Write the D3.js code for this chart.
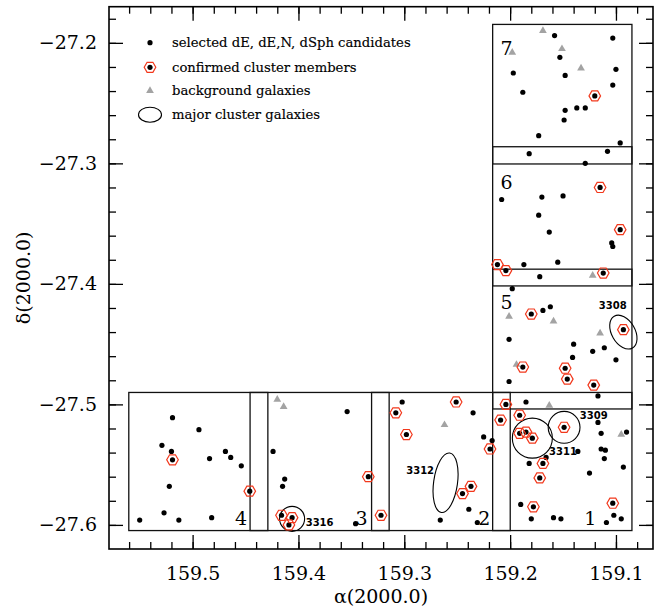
<!DOCTYPE html>
<html>
<head>
<meta charset="utf-8">
<script src="https://cdn.jsdelivr.net/npm/d3@7"></script>
<style>
  body { margin: 0; background: #fff; }
  svg { display: block; }
</style>
</head>
<body>
<script>
var w = 669, h = 610;
var dim = { left: 109, right: 653, top: 6.7, bottom: 549 };

// axis ranges and labels
var raDomain = [159.579, 159.065];
var decDomain = [-27.620, -27.170];
var raTicks = [159.5, 159.4, 159.3, 159.2, 159.1];
var decTicks = [-27.2, -27.3, -27.4, -27.5, -27.6];

// selected dE, dE,N, dSph candidates [ra, dec]
var selected = [
  [159.158,-27.194],[159.103,-27.196],[159.153,-27.212],[159.197,-27.225],[159.100,-27.222],
  [159.148,-27.227],[159.188,-27.241],[159.103,-27.235],[159.148,-27.256],[159.137,-27.254],
  [159.129,-27.254],[159.149,-27.264],[159.173,-27.277],[159.096,-27.283],[159.182,-27.292],
  [159.108,-27.290],[159.129,-27.300],
  [159.208,-27.330],[159.170,-27.328],[159.150,-27.327],[159.173,-27.343],[159.163,-27.357],
  [159.104,-27.366],[159.103,-27.369],[159.187,-27.384],[159.155,-27.382],[159.172,-27.394],
  [159.198,-27.404],
  [159.169,-27.422],[159.162,-27.419],[159.201,-27.446],[159.140,-27.450],[159.122,-27.456],
  [159.111,-27.453],[159.141,-27.461],[159.100,-27.463],[159.201,-27.481],[159.117,-27.493],
  [159.185,-27.498],
  [159.117,-27.515],[159.114,-27.524],[159.090,-27.523],[159.225,-27.527],[159.217,-27.530],
  [159.114,-27.537],[159.110,-27.538],[159.136,-27.539],[159.166,-27.544],[159.111,-27.545],
  [159.182,-27.549],[159.093,-27.552],[159.125,-27.557],[159.190,-27.583],[159.180,-27.595],
  [159.159,-27.594],[159.152,-27.595],[159.109,-27.598],[159.102,-27.592],[159.095,-27.595],
  [159.354,-27.506],[159.413,-27.562],[159.415,-27.568],[159.346,-27.599],[159.302,-27.498],
  [159.235,-27.507],[159.239,-27.587],[159.266,-27.596],[159.231,-27.598],[159.424,-27.539],
  [159.519,-27.511],[159.494,-27.521],[159.529,-27.534],[159.520,-27.539],[159.469,-27.539],
  [159.484,-27.545],[159.464,-27.544],[159.454,-27.551],[159.522,-27.568],[159.527,-27.590],
  [159.550,-27.596],[159.513,-27.596],[159.482,-27.594]
];

// confirmed cluster members [ra, dec]
var confirmed = [
  [159.120,-27.244],[159.115,-27.320],[159.096,-27.355],[159.212,-27.384],[159.204,-27.389],
  [159.112,-27.391],[159.180,-27.425],[159.093,-27.438],[159.188,-27.469],[159.148,-27.470],
  [159.146,-27.479],[159.121,-27.484],[159.204,-27.500],[159.191,-27.509],[159.209,-27.513],
  [159.149,-27.519],[159.191,-27.524],[159.185,-27.523],[159.179,-27.528],[159.219,-27.537],
  [159.169,-27.549],[159.172,-27.561],[159.103,-27.582],[159.178,-27.585],[159.308,-27.507],
  [159.251,-27.498],[159.298,-27.525],[159.334,-27.560],[159.237,-27.568],[159.245,-27.574],
  [159.322,-27.592],[159.416,-27.592],[159.406,-27.594],[159.409,-27.600],[159.519,-27.546],
  [159.446,-27.572]
];

// background galaxies [ra, dec]
var background = [
  [159.169,-27.190],[159.198,-27.208],[159.151,-27.205],[159.133,-27.221],[159.122,-27.393],
  [159.201,-27.427],[159.159,-27.431],[159.115,-27.441],[159.194,-27.467],[159.163,-27.501],
  [159.095,-27.525],[159.262,-27.517],[159.420,-27.496],[159.414,-27.502]
];

// major cluster galaxies: centre, semi-axes (deg), position angle, label anchor
var majorGalaxies = [
  { name: "3308", ra: 159.093, dec: -27.440, a: 0.0152, b: 0.0097, pa: -30, lra: 159.103, ldec: -27.418 },
  { name: "3309", ra: 159.149, dec: -27.519, a: 0.0132, b: 0.0132, pa: 0, lra: 159.121, ldec: -27.509 },
  { name: "3311", ra: 159.179, dec: -27.528, a: 0.0166, b: 0.0166, pa: 0, lra: 159.150, ldec: -27.539 },
  { name: "3312", ra: 159.261, dec: -27.565, a: 0.0249, b: 0.0099, pa: 8, lra: 159.285, ldec: -27.555 },
  { name: "3316", ra: 159.406, dec: -27.595, a: 0.0104, b: 0.0104, pa: 0, lra: 159.380, ldec: -27.598 }
];

// observed fields: ra east/west edges, dec top/bottom, label anchor
var fields = [
  { name: "1", ra0: 159.2165, ra1: 159.0849, dec0: -27.4901, dec1: -27.6047, lra: 159.130, ldec: -27.600 },
  { name: "2", ra0: 159.3309, ra1: 159.1999, dec0: -27.4901, dec1: -27.6047, lra: 159.230, ldec: -27.600 },
  { name: "3", ra0: 159.4457, ra1: 159.3143, dec0: -27.4901, dec1: -27.6047, lra: 159.346, ldec: -27.600 },
  { name: "4", ra0: 159.5603, ra1: 159.4289, dec0: -27.4901, dec1: -27.6047, lra: 159.460, ldec: -27.600 },
  { name: "5", ra0: 159.2165, ra1: 159.0849, dec0: -27.3878, dec1: -27.5038, lra: 159.209, ldec: -27.421 },
  { name: "6", ra0: 159.2165, ra1: 159.0849, dec0: -27.2862, dec1: -27.4017, lra: 159.209, ldec: -27.321 },
  { name: "7", ra0: 159.2165, ra1: 159.0849, dec0: -27.1847, dec1: -27.3005, lra: 159.209, ldec: -27.210 }
];

var legendLabels = ["selected dE, dE,N, dSph candidates", "confirmed cluster members",
                    "background galaxies", "major cluster galaxies"];

var serif = "'DejaVu Serif', serif";
var red = "#f2381c";
var grey = "#a3a3a3";

var svg = d3.select("body").append("svg")
            .attr("width", w)
            .attr("height", h);

var xScale = d3.scaleLinear().domain(raDomain).range([dim.left, dim.right]);
var yScale = d3.scaleLinear().domain(decDomain).range([dim.bottom, dim.top]);
var pxPerDeg = Math.abs(yScale(0.1) - yScale(0)) * 10;

var raMinor = d3.range(159.08, 159.57, 0.02);
var decMinor = d3.range(-27.60, -27.17, 0.02);

function styleAxis(g) {
  g.select(".domain").remove();
  g.selectAll(".tick line").attr("stroke", "#000").attr("stroke-width", 1.3);
  g.selectAll("text").attr("font-family", serif).attr("font-size", 19).attr("fill", "#000");
}

// major ticks
svg.append("g").attr("transform", "translate(0," + dim.bottom + ")")
   .call(d3.axisBottom(xScale).tickValues(raTicks).tickSize(-14).tickPadding(18)
           .tickFormat(d3.format(".1f")))
   .call(styleAxis);
svg.append("g").attr("transform", "translate(0," + dim.top + ")")
   .call(d3.axisTop(xScale).tickValues(raTicks).tickSize(-14).tickFormat(""))
   .call(styleAxis);
svg.append("g").attr("transform", "translate(" + dim.left + ",0)")
   .call(d3.axisLeft(yScale).tickValues(decTicks).tickSize(-14).tickPadding(12)
           .tickFormat(function(d) { return "\u2212" + d3.format(".1f")(-d); }))
   .call(styleAxis);
svg.append("g").attr("transform", "translate(" + dim.right + ",0)")
   .call(d3.axisRight(yScale).tickValues(decTicks).tickSize(-14).tickFormat(""))
   .call(styleAxis);

// minor ticks
svg.append("g").attr("transform", "translate(0," + dim.bottom + ")")
   .call(d3.axisBottom(xScale).tickValues(raMinor).tickSize(-7).tickFormat(""))
   .call(styleAxis);
svg.append("g").attr("transform", "translate(0," + dim.top + ")")
   .call(d3.axisTop(xScale).tickValues(raMinor).tickSize(-7).tickFormat(""))
   .call(styleAxis);
svg.append("g").attr("transform", "translate(" + dim.left + ",0)")
   .call(d3.axisLeft(yScale).tickValues(decMinor).tickSize(-7).tickFormat(""))
   .call(styleAxis);
svg.append("g").attr("transform", "translate(" + dim.right + ",0)")
   .call(d3.axisRight(yScale).tickValues(decMinor).tickSize(-7).tickFormat(""))
   .call(styleAxis);

// frame
svg.append("rect")
   .attr("x", dim.left).attr("y", dim.top)
   .attr("width", dim.right - dim.left).attr("height", dim.bottom - dim.top)
   .attr("fill", "none").attr("stroke", "#000").attr("stroke-width", 1.6);

// axis titles
svg.append("text")
   .attr("x", (dim.left + dim.right) / 2).attr("y", 603)
   .attr("text-anchor", "middle")
   .attr("font-family", serif).attr("font-size", 19)
   .text("\u03b1(2000.0)");
svg.append("text")
   .attr("transform", "translate(30," + ((dim.top + dim.bottom) / 2) + ") rotate(-90)")
   .attr("text-anchor", "middle")
   .attr("font-family", serif).attr("font-size", 19)
   .text("\u03b4(2000.0)");

// field boxes
svg.append("g").selectAll("rect")
   .data(fields)
   .enter().append("rect")
   .attr("x", function(d) { return xScale(d.ra0); })
   .attr("y", function(d) { return yScale(d.dec0); })
   .attr("width", function(d) { return xScale(d.ra1) - xScale(d.ra0); })
   .attr("height", function(d) { return yScale(d.dec1) - yScale(d.dec0); })
   .attr("fill", "none")
   .attr("stroke", "#111")
   .attr("stroke-width", 1.3);

svg.append("g").selectAll("text")
   .data(fields)
   .enter().append("text")
   .attr("x", function(d) { return xScale(d.lra); })
   .attr("y", function(d) { return yScale(d.ldec); })
   .attr("font-family", serif).attr("font-size", 19)
   .text(function(d) { return d.name; });

// major galaxies
var major = svg.append("g").selectAll("g")
   .data(majorGalaxies)
   .enter().append("g");
major.append("ellipse")
   .attr("transform", function(d) {
     return "translate(" + xScale(d.ra) + "," + yScale(d.dec) + ") rotate(" + d.pa + ")";
   })
   .attr("rx", function(d) { return d.b * pxPerDeg; })
   .attr("ry", function(d) { return d.a * pxPerDeg; })
   .attr("fill", "none")
   .attr("stroke", "#000")
   .attr("stroke-width", 1.1);
major.append("text")
   .attr("x", function(d) { return xScale(d.lra); })
   .attr("y", function(d) { return yScale(d.ldec); })
   .attr("dy", "0.36em")
   .attr("text-anchor", "middle")
   .attr("font-family", "'DejaVu Sans', sans-serif")
   .attr("font-weight", "bold")
   .attr("font-size", 10)
   .text(function(d) { return d.name; });

// background galaxies
var tri = d3.symbol().type(d3.symbolTriangle).size(26);
svg.append("g").selectAll("path")
   .data(background)
   .enter().append("path")
   .attr("transform", function(d) { return "translate(" + xScale(d[0]) + "," + yScale(d[1]) + ")"; })
   .attr("d", tri)
   .attr("fill", grey);

// dwarf candidates (confirmed ones have a dot too)
svg.append("g").selectAll("circle")
   .data(selected.concat(confirmed))
   .enter().append("circle")
   .attr("cx", function(d) { return xScale(d[0]); })
   .attr("cy", function(d) { return yScale(d[1]); })
   .attr("r", 2.6)
   .attr("fill", "#000");

function hexPath(r) {
  var pts = d3.range(6).map(function(i) {
    var a = i * Math.PI / 3;
    return [r * Math.cos(a), r * Math.sin(a)];
  });
  return d3.line()(pts) + "Z";
}

svg.append("g").selectAll("path")
   .data(confirmed)
   .enter().append("path")
   .attr("transform", function(d) { return "translate(" + xScale(d[0]) + "," + yScale(d[1]) + ")"; })
   .attr("d", hexPath(5.8))
   .attr("fill", "none")
   .attr("stroke", red)
   .attr("stroke-width", 1.2);

// legend
var legend = svg.append("g").selectAll("g")
   .data(legendLabels)
   .enter().append("g")
   .attr("transform", function(d, i) { return "translate(150," + [42.7, 67.3, 90.7, 114.7][i] + ")"; });

legend.append("text")
   .attr("x", 22)
   .attr("dy", "0.35em")
   .attr("font-family", serif)
   .attr("font-size", 13.2)
   .attr("stroke", "#000")
   .attr("stroke-width", 0.15)
   .text(function(d) { return d; });

legend.filter(function(d, i) { return i < 2; }).append("circle")
   .attr("r", 2.6).attr("fill", "#000");
legend.filter(function(d, i) { return i == 1; }).append("path")
   .attr("d", hexPath(5.8)).attr("fill", "none").attr("stroke", red).attr("stroke-width", 1.2);
legend.filter(function(d, i) { return i == 2; }).append("path")
   .attr("d", tri).attr("fill", grey);
legend.filter(function(d, i) { return i == 3; }).append("ellipse")
   .attr("rx", 11.5).attr("ry", 7.5)
   .attr("fill", "none").attr("stroke", "#000").attr("stroke-width", 1.1);
</script>
</body>
</html>
